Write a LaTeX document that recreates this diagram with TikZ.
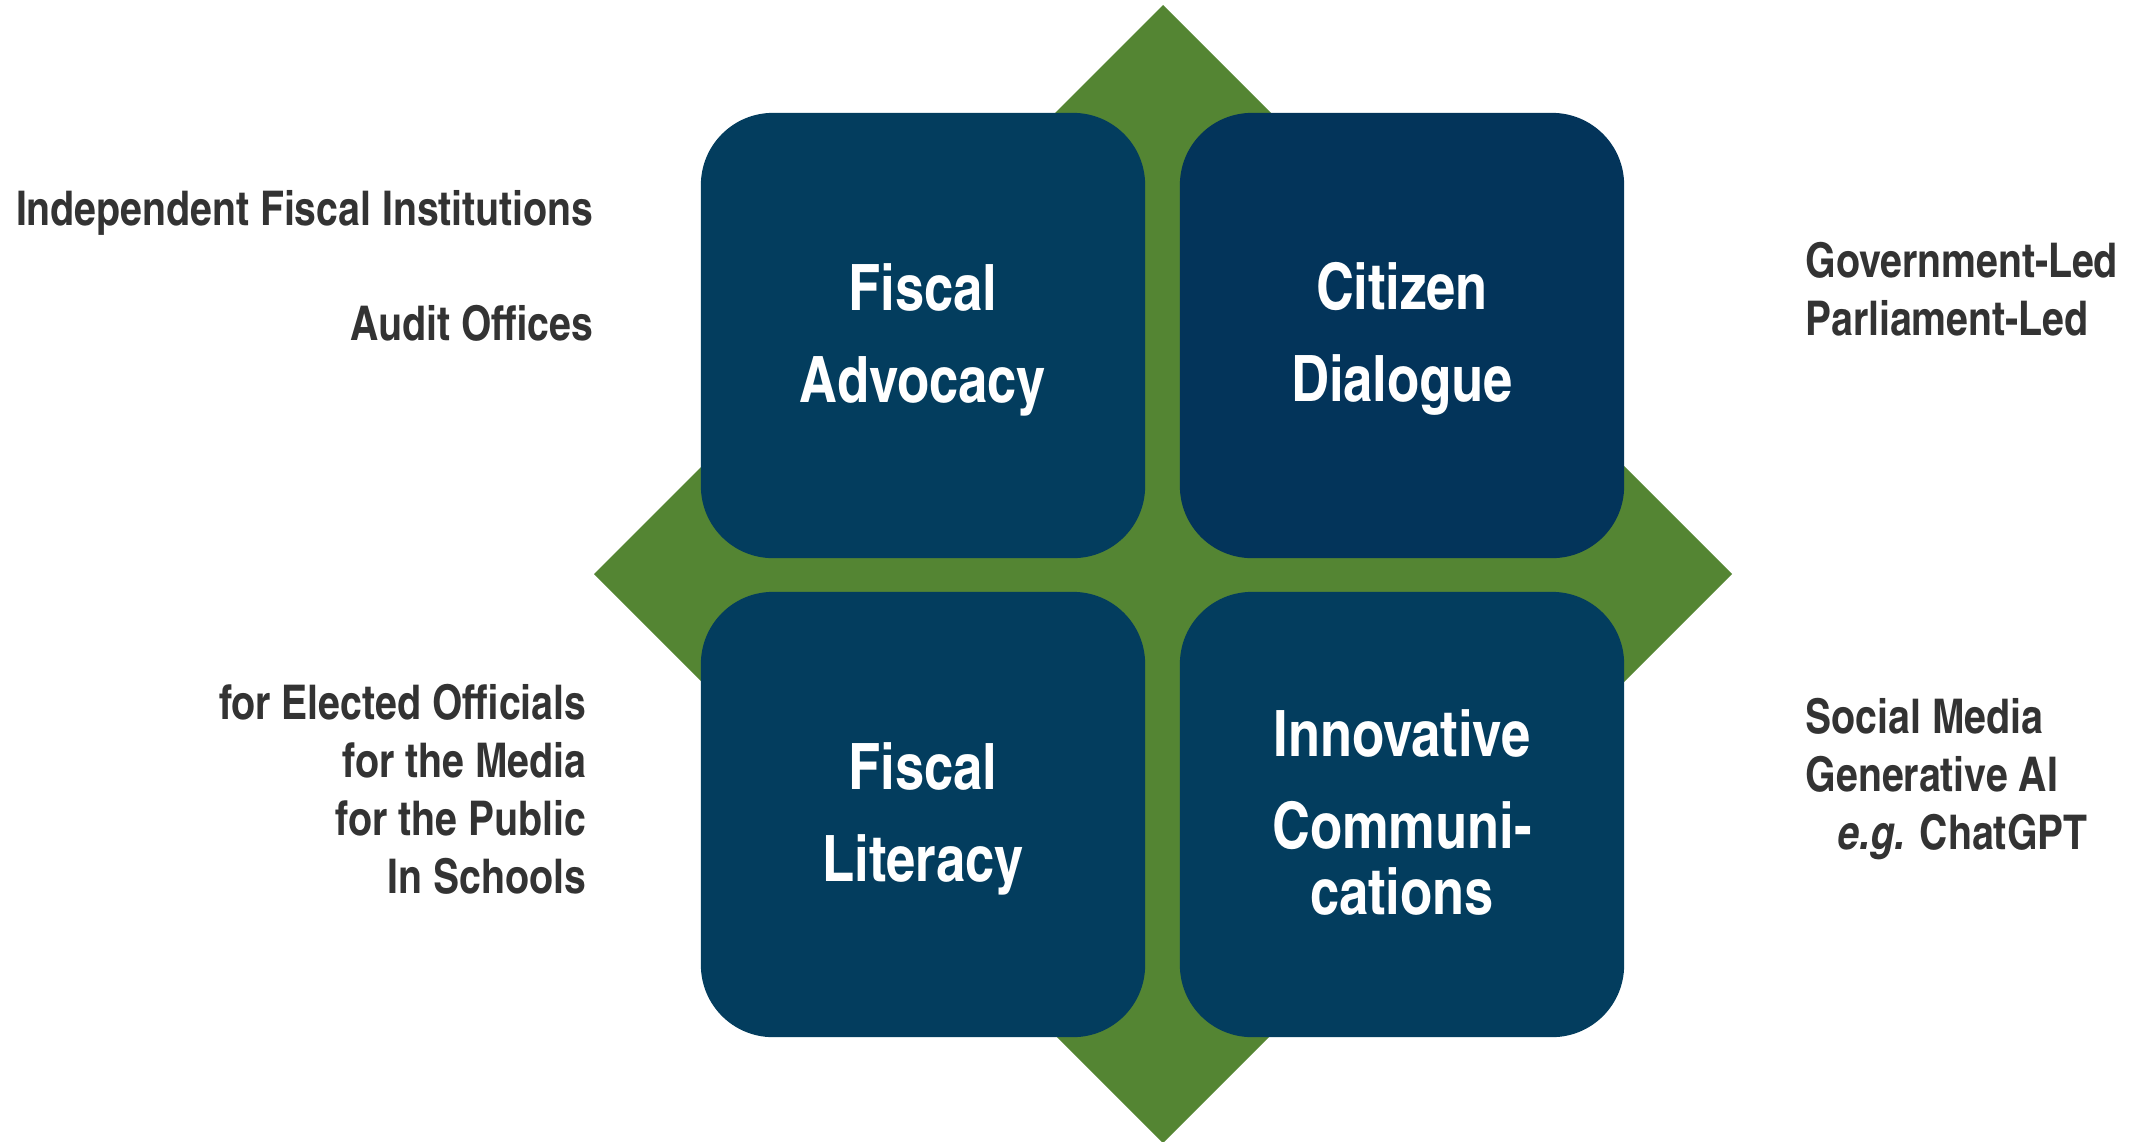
\documentclass[tikz,border=0pt]{standalone}
\usepackage{fontspec}
\setmainfont{texgyreheroscn}[Extension=.otf, UprightFont=*-regular, BoldFont=*-bold, ItalicFont=*-italic, BoldItalicFont=*-bolditalic]
\definecolor{boxblue}{HTML}{033D5E}
\definecolor{boxdark}{HTML}{03345A}
\definecolor{leafgreen}{HTML}{548533}
\definecolor{txtgray}{HTML}{333333}
\tikzset{
  tile/.style={rectangle, rounded corners=0.72cm, minimum width=4.44cm, minimum height=4.45cm, inner sep=0pt, draw=none, fill=boxblue},
  tiletext/.style={anchor=base, inner sep=0pt, text=white, font=\fontsize{18.2pt}{26.2pt}\selectfont\bfseries},
  sidetext/.style={inner sep=0pt, text=txtgray, font=\fontsize{13.6pt}{16.5pt}\selectfont\bfseries}
}
\begin{document}
\begin{tikzpicture}[x=0.01cm,y=-0.01cm]
\useasboundingbox (0,0) rectangle (2131,1141);
\clip (0,0) rectangle (2131,1141);
% green diamond
\fill[leafgreen] (1163,5) -- (1732,574) -- (1163,1143) -- (594,574) -- cycle;
% tiles
\node[tile] (tl) at (923,335.5) {};
\node[tile, fill=boxdark] (tr) at (1402,335.5) {};
\node[tile] (bl) at (923,814.5) {};
\node[tile] (br) at (1402,814.5) {};
% tile texts
\node[tiletext] (tltext) at (923,310) {\begin{tabular}[t]{@{}c@{}}Fiscal\\Advocacy\end{tabular}};
\node[tiletext] (trtext) at (1402,309) {\begin{tabular}[t]{@{}c@{}}Citizen\\Dialogue\end{tabular}};
\node[tiletext] (bltext) at (923,789) {\begin{tabular}[t]{@{}c@{}}Fiscal\\Literacy\end{tabular}};
\node[tiletext] (brtext) at (1402,756) {\begin{tabular}[t]{@{}c@{}}Innovative\\Communi-\\[-7.3pt]cations\end{tabular}};
% side texts
\node[sidetext, anchor=base east] (ifi) at (594,225) {Independent Fiscal Institutions};
\node[sidetext, anchor=base east] (audit) at (594,340) {Audit Offices};
\node[sidetext, anchor=base east] (lit) at (587,719) {\begin{tabular}[t]{@{}r@{}}for Elected Officials\\for the Media\\for the Public\\In Schools\end{tabular}};
\node[sidetext, anchor=base west] (led) at (1805,277) {\begin{tabular}[t]{@{}l@{}}Government-Led\\Parliament-Led\end{tabular}};
\node[sidetext, anchor=base west] (media) at (1805,733) {\begin{tabular}[t]{@{}l@{}}Social Media\\Generative AI\\\hspace*{0.32cm}\textit{e.g.} ChatGPT\end{tabular}};
\end{tikzpicture}
\end{document}
